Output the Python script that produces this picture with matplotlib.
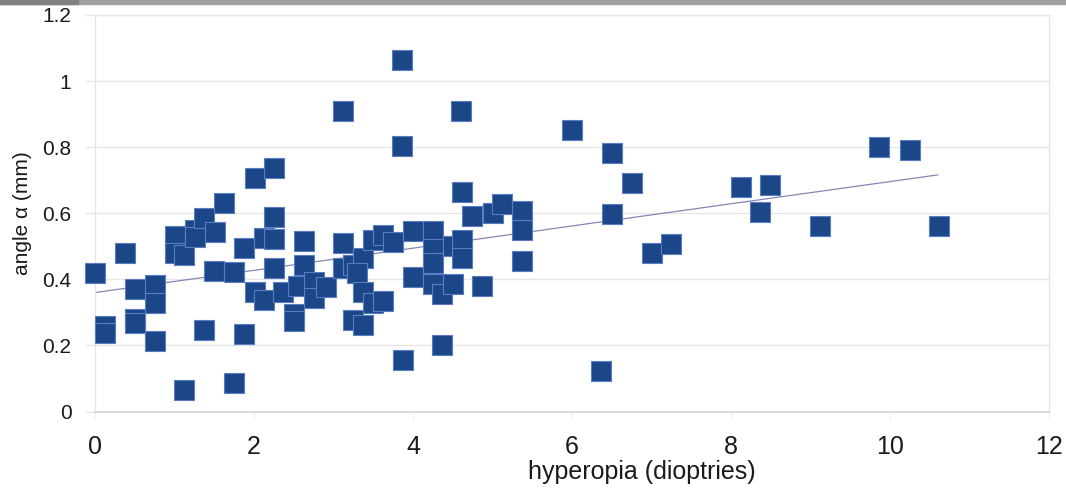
import numpy as np
import matplotlib.pyplot as plt
from matplotlib.patches import Rectangle

# hyperopia (D) vs angle alpha (mm)
hyperopia = [0.00, 0.13, 0.13, 0.38, 0.50, 0.50, 0.50, 0.75, 0.75, 0.75,
             1.00, 1.00, 1.12, 1.12, 1.26, 1.26, 1.37, 1.37, 1.51, 1.50,
             1.62, 1.75, 1.75, 1.88, 1.87, 2.01, 2.01, 2.13, 2.13, 2.25,
             2.25, 2.25, 2.25, 2.37, 2.50, 2.50, 2.55, 2.63, 2.63, 2.75,
             2.75, 2.90, 3.12, 3.12, 3.25, 3.37, 3.30, 3.37, 3.25, 3.37,
             3.50, 3.62, 3.75, 3.50, 3.62, 3.12, 3.86, 3.86, 3.87, 4.00,
             4.00, 4.25, 4.25, 4.25, 4.25, 4.37, 4.37, 4.50, 4.50, 4.62,
             4.62, 4.62, 4.61, 4.74, 4.87, 5.00, 5.12, 5.37, 5.37, 5.37,
             6.00, 6.37, 6.50, 6.50, 6.75, 7.00, 7.25, 8.12, 8.37, 8.49,
             9.12, 9.86, 10.25, 10.62]
angle_alpha = [0.420, 0.259, 0.239, 0.480, 0.370, 0.279, 0.267, 0.383, 0.328, 0.212,
               0.530, 0.480, 0.473, 0.065, 0.550, 0.528, 0.585, 0.247, 0.543, 0.426,
               0.631, 0.421, 0.087, 0.495, 0.235, 0.707, 0.363, 0.525, 0.336, 0.737,
               0.590, 0.522, 0.434, 0.363, 0.295, 0.275, 0.380, 0.515, 0.444, 0.392,
               0.345, 0.378, 0.510, 0.434, 0.444, 0.465, 0.420, 0.363, 0.277, 0.262,
               0.520, 0.535, 0.512, 0.328, 0.333, 0.910, 1.065, 0.805, 0.156, 0.545,
               0.408, 0.545, 0.492, 0.449, 0.386, 0.356, 0.200, 0.500, 0.385, 0.520,
               0.466, 0.663, 0.910, 0.592, 0.380, 0.600, 0.628, 0.608, 0.548, 0.456,
               0.853, 0.124, 0.782, 0.598, 0.693, 0.479, 0.508, 0.679, 0.604, 0.684,
               0.560, 0.800, 0.790, 0.560]

# linear trend line end points
trend_x = [0.0, 10.6]
trend_y = [0.36, 0.716]

x_ticks = [0, 2, 4, 6, 8, 10, 12]
y_ticks = [0, 0.2, 0.4, 0.6, 0.8, 1.0, 1.2]
y_tick_labels = ['0', '0.2', '0.4', '0.6', '0.8', '1', '1.2']

sans = ['Liberation Sans', 'DejaVu Sans']

fig = plt.figure(figsize=(10.66, 4.88), dpi=100)
ax = fig.add_axes([95 / 1066, 1 - 411.5 / 488, 954 / 1066, 396.5 / 488])

# grey strip along the very top of the picture
fig.patches.append(Rectangle((0, 1 - 4 / 488), 1, 4 / 488, transform=fig.transFigure,
                             color='#a0a0a0', zorder=0))
fig.patches.append(Rectangle((0, 1 - 4 / 488), 78 / 1066, 4 / 488, transform=fig.transFigure,
                             color='#808080', zorder=1))

for yv in y_ticks[1:]:
    ax.axhline(yv, color='#e6e6e6', lw=1.0, zorder=0)

ax.plot(trend_x, trend_y, color='#8585b5', lw=0.9, zorder=2)
ax.scatter(hyperopia, angle_alpha, marker='s', s=210, c='#1b4789',
           edgecolors='#5a7cc0', linewidths=0.8, zorder=3, clip_on=False)

ax.set_xlim(0, 12)
ax.set_ylim(0, 1.2)
ax.set_xticks(x_ticks)
ax.set_xticklabels([str(v) for v in x_ticks], family=sans, fontsize=18, color='#1a1a1a')
ax.set_yticks(y_ticks)
ax.set_yticklabels(y_tick_labels, family=sans, fontsize=15, color='#1a1a1a')
ax.tick_params(axis='y', length=7, width=1, color='#e6e6e6', pad=10)
ax.tick_params(axis='x', length=6, width=0.8, color='#f0f0f0', pad=11)

for side in ['left', 'top', 'right']:
    ax.spines[side].set_color('#e6e6e6')
    ax.spines[side].set_linewidth(1.0)
ax.spines['bottom'].set_color('#d9d3cd')
ax.spines['bottom'].set_linewidth(1.2)

ax.set_xlabel('hyperopia (dioptries)', family=sans, fontsize=18, color='#1a1a1a')
ax.xaxis.set_label_coords(0.573, -0.122)
ax.set_ylabel('angle α (mm)', family=sans, fontsize=15, color='#1a1a1a')
ax.yaxis.set_label_coords(-0.066, 0.5)

fig.savefig('out.png', dpi=100)
